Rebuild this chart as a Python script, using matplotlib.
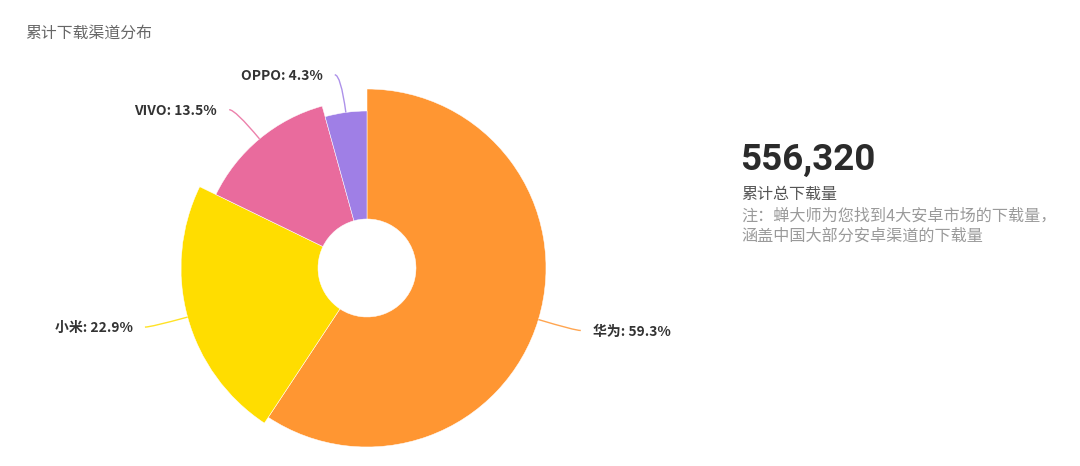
"""累计下载渠道分布: 玫瑰环形图 + 右侧总下载量说明。"""

import numpy as np
import matplotlib
matplotlib.use("Agg")
import matplotlib.pyplot as plt
from matplotlib.patches import Wedge, PathPatch
from matplotlib.path import Path

plt.rcParams["font.family"] = ["Noto Sans CJK SC", "DejaVu Sans"]

# ---- data ----
channels = ["华为", "小米", "VIVO", "OPPO"]
shares = [59.3, 22.9, 13.5, 4.3]          # 百分比
total_downloads = 556320
title = "累计下载渠道分布"
total_label = "累计总下载量"
note_lines = ["注：蝉大师为您找到4大安卓市场的下载量，", "涵盖中国大部分安卓渠道的下载量"]

# ---- style ----
colors = ["#FF9632", "#FFDD00", "#E96B9D", "#9F7FE6"]
outer_r = [179, 186, 168, 157]            # 各扇区外半径(px)
inner_r = 49
W, H = 1080, 466
cx, cy = 367, H - 268
len1, len2, gap = 38, 6, 12


def main():
    fig = plt.figure(figsize=(W / 100, H / 100), dpi=100)
    ax = fig.add_axes([0, 0, 1, 1])
    ax.set_xlim(0, W)
    ax.set_ylim(0, H)
    ax.set_aspect("equal")
    ax.axis("off")

    start = 90.0
    for name, pct, col, r in zip(channels, shares, colors, outer_r):
        span = 360.0 * pct / sum(shares)
        t1, t2 = start - span, start
        ax.add_patch(Wedge((cx, cy), r, t1, t2, width=r - inner_r,
                           facecolor=col, edgecolor="white", linewidth=0.35))
        mid = np.deg2rad((t1 + t2) / 2)
        d = np.array([np.cos(mid), np.sin(mid)])
        p0 = np.array([cx, cy]) + r * d
        p1 = p0 + len1 * d
        side = 1 if d[0] >= 0 else -1
        p2 = p1 + np.array([side * len2, 0])
        path = Path([p0, p1, p2], [Path.MOVETO, Path.CURVE3, Path.CURVE3])
        ax.add_patch(PathPatch(path, facecolor="none", edgecolor=col,
                               linewidth=1.0, alpha=0.85))
        ax.text(p2[0] + side * gap, p2[1] - 1, f"{name}: {pct:.1f}%",
                ha="left" if side > 0 else "right", va="center",
                fontsize=10, fontweight="bold", color="#333333")
        start = t1

    ax.text(25, H - 33, title, ha="left", va="center", fontsize=11.4, color="#666666")

    ax.text(740, H - 170, f"{total_downloads:,}", ha="left", va="baseline",
            fontsize=26.5, fontweight="bold", color="#2b2b2b",
            family=["Roboto", "DejaVu Sans"])
    ax.text(741, H - 194, total_label, ha="left", va="center", fontsize=11.5, color="#555555")
    for i, line in enumerate(note_lines):
        ax.text(741, H - 216 - 20 * i, line, ha="left", va="center",
                fontsize=11.6, color="#9a9a9a")

    fig.savefig("out.png", dpi=100, facecolor="white")
    plt.close(fig)


if __name__ == "__main__":
    main()
